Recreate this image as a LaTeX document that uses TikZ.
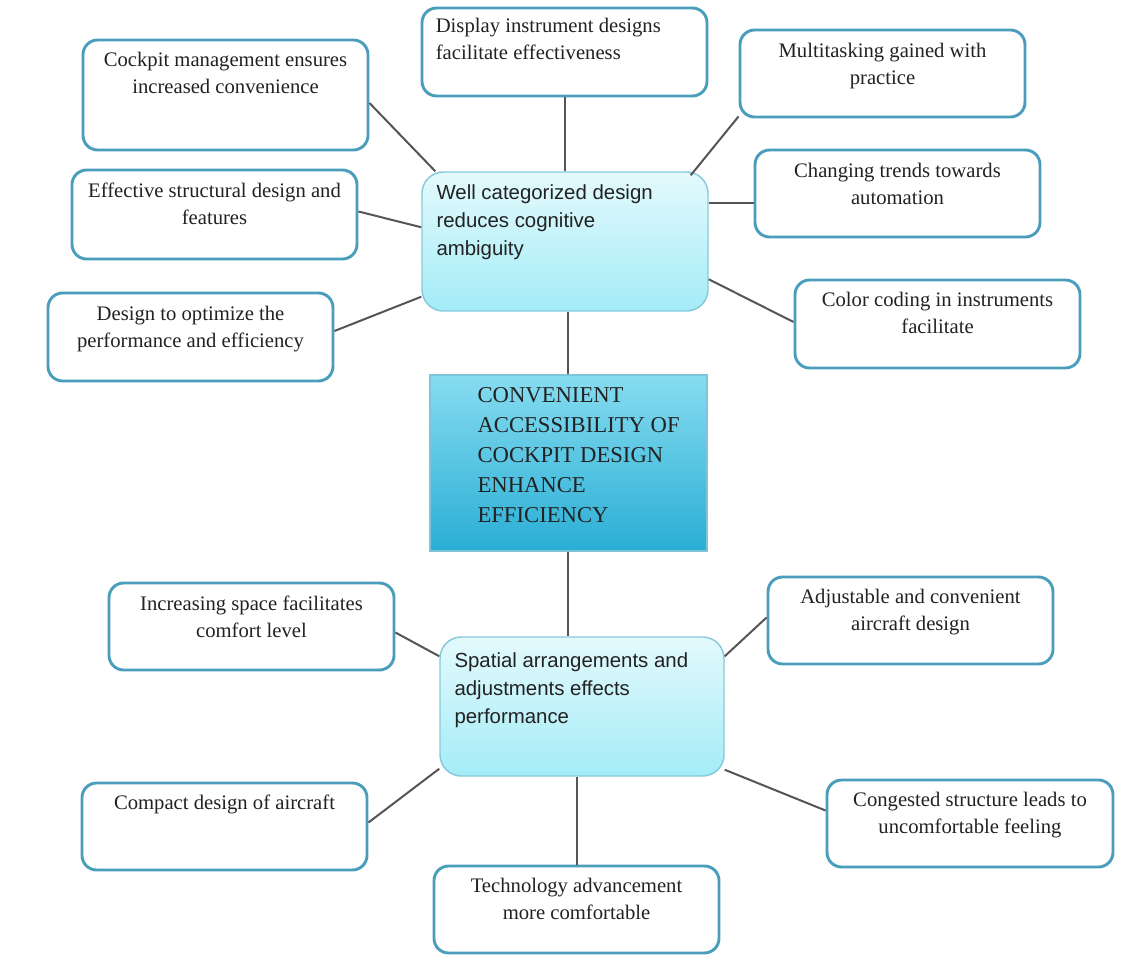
\documentclass[tikz,border=0pt]{standalone}
\usepackage{fontspec}
\setmainfont{Liberation Serif}
\newfontfamily\hubfont{Liberation Sans}
\usetikzlibrary{fit,calc}
\definecolor{leafborder}{HTML}{4A9EBC}
\definecolor{hubborder}{HTML}{86CADA}
\definecolor{hubtop}{HTML}{E4FAFD}
\definecolor{hubbottom}{HTML}{A4ECF7}
\definecolor{ctop}{HTML}{86DCF0}
\definecolor{cbottom}{HTML}{2AAED5}
\definecolor{cborder}{HTML}{7FC4D8}
\definecolor{linkcol}{HTML}{555555}
\definecolor{txt}{HTML}{222222}
\tikzset{
  leafbox/.style={draw=leafborder, line width=2.2pt, rounded corners=11pt, fill=white, inner sep=0pt},
  hubbox/.style={draw=hubborder, line width=1.1pt, rounded corners=16pt, top color=hubtop, bottom color=hubbottom, inner sep=0pt},
  centerbox/.style={draw=cborder, line width=1.1pt, top color=ctop, bottom color=cbottom, inner sep=0pt},
  leaftext/.style={inner sep=0pt, align=center, text=txt, font=\fontsize{15.5}{20.2}\selectfont},
  lefttext/.style={inner sep=0pt, align=left, text=txt, font=\fontsize{15.5}{20.2}\selectfont},
  hubtext/.style={inner sep=0pt, align=left, text=txt, font=\hubfont\fontsize{15.3}{21}\selectfont},
  centertext/.style={inner sep=0pt, align=left, text=txt, font=\fontsize{17}{22.5}\selectfont},
  link/.style={draw=linkcol, line width=1.5pt}
}
\begin{document}
\begin{tikzpicture}[x=0.75pt,y=-0.75pt]
\useasboundingbox (0,0) rectangle (1127,955);

% hubs
\node[hubbox, fit={(422,172) (708,311)}] (well) {};
\node[centerbox, fit={(430,375) (707,551)}] (central) {};
\node[hubbox, fit={(440,637) (724,776)}] (spatial) {};

% leaves
\node[leafbox, fit={(83,40) (368,150)}] (cm) {};
\node[leafbox, fit={(422,8) (707,96)}] (disp) {};
\node[leafbox, fit={(740,30) (1025,117)}] (multi) {};
\node[leafbox, fit={(755,150) (1040,237)}] (chg) {};
\node[leafbox, fit={(72,170) (357,259)}] (eff) {};
\node[leafbox, fit={(48,293) (333,381)}] (opt) {};
\node[leafbox, fit={(795,280) (1080,368)}] (col) {};
\node[leafbox, fit={(109,583) (394,670)}] (inc) {};
\node[leafbox, fit={(768,577) (1053,664)}] (adj) {};
\node[leafbox, fit={(82,783) (367,870)}] (cmp) {};
\node[leafbox, fit={(827,780) (1113,867)}] (cong) {};
\node[leafbox, fit={(434,866) (719,953)}] (tech) {};

% texts
\node[hubtext, anchor=north west] (wellT) at ($(well.north west)+(15,13)$) {Well categorized design\\reduces cognitive\\ambiguity};
\node[centertext, anchor=north west] (centralT) at ($(central.north west)+(48,13)$) {CONVENIENT\\ACCESSIBILITY OF\\COCKPIT DESIGN\\ENHANCE\\EFFICIENCY};
\node[hubtext, anchor=north west] (spatialT) at ($(spatial.north west)+(15,16)$) {Spatial arrangements and\\adjustments effects\\performance};

\node[leaftext, anchor=north] (cmT) at ($(cm.north)+(0,13)$) {Cockpit management ensures\\increased convenience};
\node[lefttext, anchor=north west] (dispT) at ($(disp.north west)+(15,11)$) {Display instrument designs\\facilitate effectiveness};
\node[leaftext, anchor=north] (multiT) at ($(multi.north)+(0,14)$) {Multitasking gained with\\practice};
\node[leaftext, anchor=north] (chgT) at ($(chg.north)+(0,14)$) {Changing trends towards\\automation};
\node[leaftext, anchor=north] (effT) at ($(eff.north)+(0,14)$) {Effective structural design and\\features};
\node[leaftext, anchor=north] (optT) at ($(opt.north)+(0,14)$) {Design to optimize the\\performance and efficiency};
\node[leaftext, anchor=north] (colT) at ($(col.north)+(0,13)$) {Color coding in instruments\\facilitate};
\node[leaftext, anchor=north] (incT) at ($(inc.north)+(0,14)$) {Increasing space facilitates\\comfort level};
\node[leaftext, anchor=north] (adjT) at ($(adj.north)+(0,13)$) {Adjustable and convenient\\aircraft design};
\node[leaftext, anchor=north] (cmpT) at ($(cmp.north)+(0,13)$) {Compact design of aircraft};
\node[leaftext, anchor=north] (congT) at ($(cong.north)+(0,13)$) {Congested structure leads to\\uncomfortable feeling};
\node[leaftext, anchor=north] (techT) at ($(tech.north)+(0,13)$) {Technology advancement\\more comfortable};

% connector end points
\coordinate (chgP) at ($(chg.west)+(0,10)$);
\coordinate (dispP) at ($(disp.south)+(0.5,0)$);
\coordinate (techP) at ($(tech.north)+(0.5,0)$);

% connectors
\draw[link] ($(cm.east)+(0,8)$) -- ($(well.north west)+(14,0)$);
\draw[link] (dispP) -- (dispP |- well.north);
\draw[link] ($(multi.south west)+(0,-2)$) -- ($(well.north east)+(-18,4)$);
\draw[link] (chgP) -- (chgP -| well.east);
\draw[link] ($(eff.east)+(0,-3)$) -- ($(well.north west)+(0,56)$);
\draw[link] ($(opt.east)+(0,-6)$) -- ($(well.south west)+(0,-15)$);
\draw[link] ($(col.west)+(0,-2)$) -- ($(well.north east)+(0,108)$);
\draw[link] ($(well.south)+(3,0)$) -- ($(central.north)+(-0.5,0)$);
\draw[link] ($(central.south)+(-0.5,0)$) -- ($(spatial.north)+(-14,0)$);
\draw[link] ($(inc.east)+(0,6)$) -- ($(spatial.north west)+(0,20)$);
\draw[link] ($(adj.west)+(0,-3)$) -- ($(spatial.north east)+(0,20)$);
\draw[link] ($(cmp.east)+(0,-4)$) -- ($(spatial.south west)+(0,-8)$);
\draw[link] ($(cong.west)+(0,-13)$) -- ($(spatial.south east)+(0,-7)$);
\draw[link] (techP) -- (techP |- spatial.south);
\end{tikzpicture}
\end{document}
